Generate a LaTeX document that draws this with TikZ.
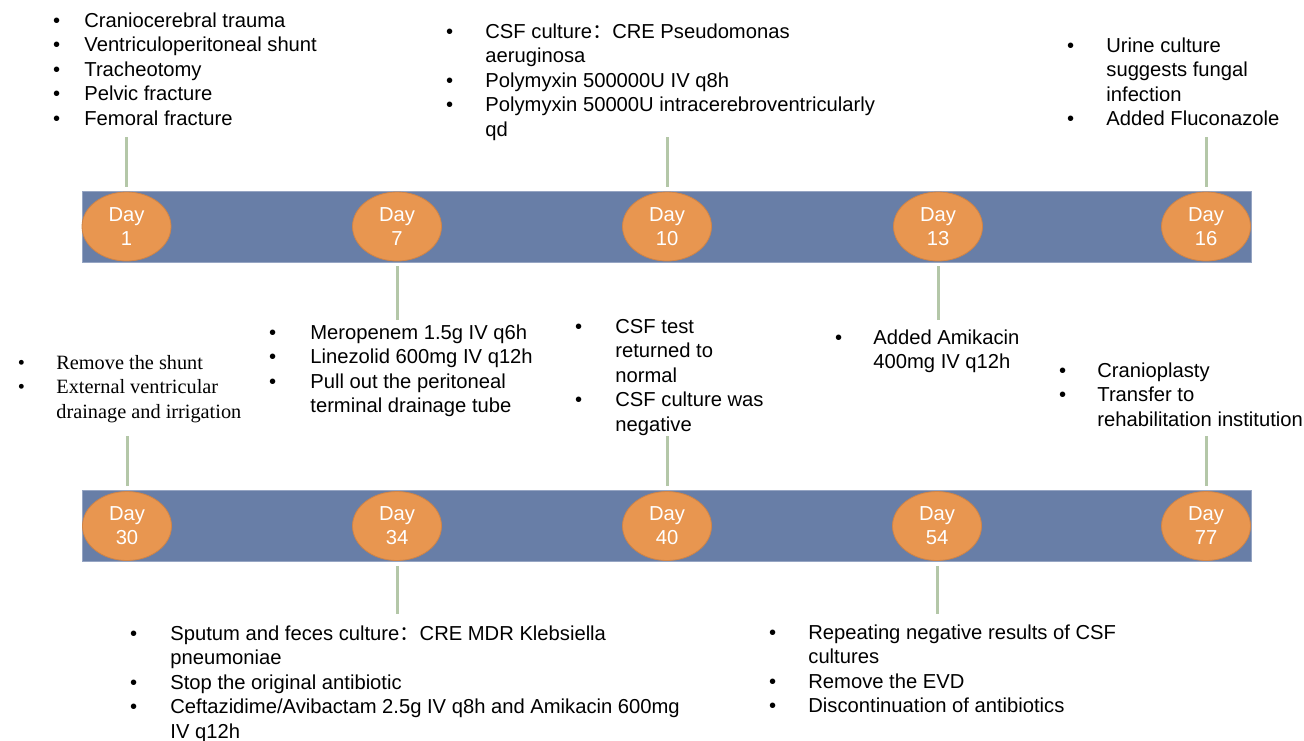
\documentclass[tikz,border=0pt]{standalone}
\usepackage{fontspec}
\setmainfont{Liberation Sans}
\newfontfamily\timesfont{Liberation Serif}
\newfontfamily\cjkfont{Noto Sans CJK SC}
\usetikzlibrary{shapes.geometric}
\definecolor{barblue}{RGB}{104,126,167}
\definecolor{barline}{RGB}{150,165,195}
\definecolor{dayorange}{RGB}{232,150,80}
\definecolor{dayline}{RGB}{208,132,70}
\definecolor{stemgreen}{RGB}{180,199,168}
\newlength\bgap
\newcommand\itm{\makebox[\bgap][l]{•}}
\newcommand\cnt{\hspace*{\bgap}}
\newcommand\fwcolon{{\cjkfont ：}}
\begin{document}
\begin{tikzpicture}[
		x=0.5pt, y=-0.5pt,
		bar/.style={rectangle, draw=barline, line width=0.4pt, fill=barblue, minimum width=584.5pt, minimum height=35.5pt, inner sep=0pt},
		day/.style={ellipse, draw=dayline, line width=0.4pt, fill=dayorange, minimum width=44.5pt, minimum height=34.5pt, inner sep=0pt, align=center, text=white, font=\fontsize{10.1}{12}\selectfont},
		note/.style={anchor=base west, inner sep=0pt, align=left, font=\fontsize{10.1}{12.25}\selectfont, execute at begin node={\setlength{\bgap}{#1}}},
		stem/.style={line width=1.5pt, draw=stemgreen, shorten <=2.5pt}
	]
	\useasboundingbox (0,0) rectangle (1304,740);

	% Timelines
	\node[bar] (bartop) at (666.5,226.5) {};
	\node[bar] (barbot) at (666.5,526) {};

	% Days, first row
	\node[day] (day1) at (126.5,226.5) {Day\\1};
	\node[day] (day7) at (397,226.5) {Day\\7};
	\node[day] (day10) at (667,226.5) {Day\\10};
	\node[day] (day13) at (938,226.5) {Day\\13};
	\node[day] (day16) at (1206,226.5) {Day\\16};

	% Days, second row
	\node[day] (day30) at (127,526) {Day\\30};
	\node[day] (day34) at (397,526) {Day\\34};
	\node[day] (day40) at (667,526) {Day\\40};
	\node[day] (day54) at (937,526) {Day\\54};
	\node[day] (day77) at (1206,526) {Day\\77};

	% Stems
	\draw[stem] (day1.north) -- ++(0,-55);
	\draw[stem] (day10.north) -- ++(0,-55);
	\draw[stem] (day16.north) -- ++(0,-55);
	\draw[stem] (day7.south) -- ++(0,58.5);
	\draw[stem] (day13.south) -- ++(0,58.5);
	\draw[stem] (day30.north) -- ++(0,-55.5);
	\draw[stem] (day40.north) -- ++(0,-55.5);
	\draw[stem] (day77.north) -- ++(0,-55.5);
	\draw[stem] (day34.south) -- ++(0,53.5);
	\draw[stem] (day54.south) -- ++(0,53.5);

	% Notes, first row (placed by their last line)
	\node[note=15.7pt] (note1) at (52.6,125) {\itm Craniocerebral trauma\\\itm Ventriculoperitoneal shunt\\\itm Tracheotomy\\\itm Pelvic fracture\\\itm Femoral fracture};
	\node[note=19.7pt] (note10) at (445.6,136) {\itm CSF culture\fwcolon CRE Pseudomonas\\\cnt aeruginosa\\\itm Polymyxin 500000U IV q8h\\\itm Polymyxin 50000U intracerebroventricularly\\\cnt qd};
	\node[note=19.7pt] (note16) at (1066.6,125.5) {\itm Urine culture\\\cnt suggests fungal\\\cnt infection\\\itm Added Fluconazole};
	\node[note=20.7pt] (note7) at (268.6,412.5) {\itm Meropenem 1.5g IV q6h\\\itm Linezolid 600mg IV q12h\\\itm Pull out the peritoneal\\\cnt terminal drainage tube};
	\node[note=19.2pt] (note13) at (834.6,368.5) {\itm Added Amikacin\\\cnt 400mg IV q12h};

	% Notes, second row
	\node[note=19.25pt, font=\timesfont\fontsize{10.15}{12.25}\selectfont] (note30) at (17.5,418) {\itm Remove the shunt\\\itm External ventricular\\\cnt drainage and irrigation};
	\node[note=20.2pt] (note40) at (574.6,431) {\itm CSF test\\\cnt returned to\\\cnt normal\\\itm CSF culture was\\\cnt negative};
	\node[note=19.2pt] (note77) at (1058.6,426) {\itm Cranioplasty\\\itm Transfer to\\\cnt rehabilitation institution};
	\node[note=20.2pt] (note34) at (129.6,738) {\itm Sputum and feces culture\fwcolon CRE MDR Klebsiella\\\cnt pneumoniae\\\itm Stop the original antibiotic\\\itm Ceftazidime/Avibactam 2.5g IV q8h and Amikacin 600mg\\\cnt IV q12h};
	\node[note=19.7pt] (note54) at (768.6,712.5) {\itm Repeating negative results of CSF\\\cnt cultures\\\itm Remove the EVD\\\itm Discontinuation of antibiotics};

\end{tikzpicture}
\end{document}
